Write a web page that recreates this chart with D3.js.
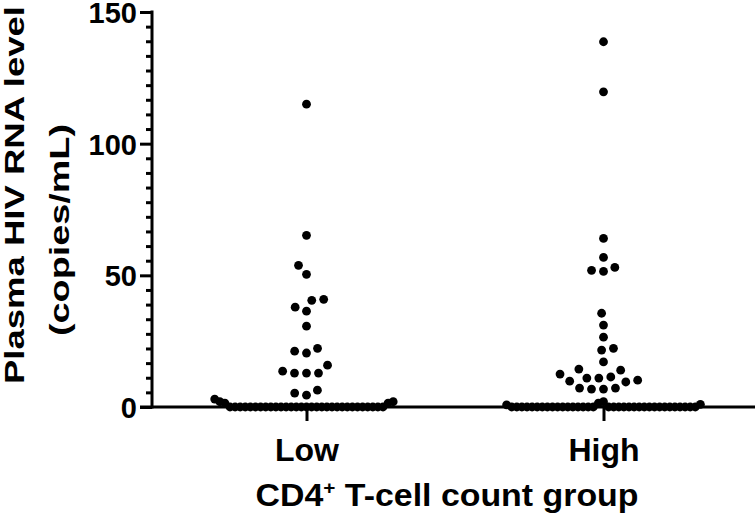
<!DOCTYPE html>
<html><head><meta charset="utf-8">
<script src="https://cdn.jsdelivr.net/npm/d3@7"></script>
<style>
html,body{margin:0;padding:0;background:#fff;}
svg{display:block;font-family:"Liberation Sans",Arial,Helvetica,sans-serif;font-weight:bold;}
</style>
</head><body>
<svg id="chart" width="755" height="517"></svg>
<script>
// ---- data ----
const categories = ["Low", "High"];
const lowValues = [115, 65.2, 53.8, 50.4, 40.9, 40.5, 37.9, 36.4, 30.7, 22.3, 21.2, 20.5,
  15.9, 13.6, 12.9, 12.9, 12.9, 6.4, 5.3, 4.5,
  0, 0, 0, 0, 0, 0, 0, 0, 0, 0, 0, 0, 0, 0, 0, 0, 0, 0, 0, 0, 0, 0, 0, 0, 0, 0, 0, 0, 0, 0, 0,
  1.5, 1.5, 2, 2, 3];
const highValues = [138.7, 119.7, 64.0, 56.8, 53.0, 51.9, 51.5, 35.6, 31.1, 26.5, 22.3, 21.6,
  17.1, 14.4, 14.0, 12.5, 11.4, 11.0, 11.0, 10.2, 9.8, 9.5, 7.2, 7.2, 6.8, 6.8,
  2, 1.5,
  0, 0, 0, 0, 0, 0, 0, 0, 0, 0, 0, 0, 0, 0, 0, 0, 0, 0, 0, 0, 0, 0, 0, 0, 0, 0, 0, 0, 0, 0, 0, 0, 0, 0, 0,
  0.8, 1];
const yTickValues = [0, 50, 100, 150];
const yLabel = ["Plasma HIV RNA level", "(copies/mL)"];
const xLabelMain = "CD4";
const xLabelSup = "+";
const xLabelRest = " T-cell count group";

// ---- setup ----
const svg = d3.select("#chart");
const axisX0 = 152, axisXEnd = 755, axisY0 = 407, axisYTop = 12;
const y = d3.scaleLinear().domain([0, 150]).range([axisY0, axisYTop]);
const x = d3.scalePoint().domain(categories).range([158, 752]).padding(0.5);

const dotR = 4.4, collide = 12, baseStep = 5.1, baselineMax = 3.5;

function layout(values, cx) {
  const pts = [];
  const base = values.filter(v => v < baselineMax);
  base.forEach((v, i) => {
    const slot = i === 0 ? 0 : (i % 2 === 1 ? -(i + 1) / 2 : i / 2);
    pts.push({ v, x: cx + slot * baseStep, y: y(v) });
  });
  const rest = values.filter(v => v >= baselineMax).sort((a, b) => a - b);
  const placed = [];
  rest.forEach(v => {
    const py = y(v);
    const near = placed.filter(p => Math.abs(p.y - py) < collide);
    const cands = [0];
    near.forEach(p => {
      const dx = Math.sqrt(collide * collide - (p.y - py) ** 2);
      cands.push(p.dx - dx, p.dx + dx);
    });
    cands.sort((a, b) => Math.abs(a) - Math.abs(b) || a - b);
    const ok = cands.find(c => near.every(p => (p.dx - c) ** 2 + (p.y - py) ** 2 >= collide * collide - 1e-6));
    placed.push({ v, dx: ok, y: py });
  });
  placed.forEach(p => pts.push({ v: p.v, x: cx + p.dx, y: p.y }));
  return pts;
}

// ---- axes ----
const minorTicks = [];
for (let i = 0; i < yTickValues.length - 1; i++) {
  const a = yTickValues[i], b = yTickValues[i + 1];
  for (let k = 1; k < 9; k++) minorTicks.push(a + (b - a) * k / 9);
}

const gy = svg.append("g").attr("transform", `translate(${axisX0},0)`);
gy.call(d3.axisLeft(y).tickValues(minorTicks).tickSize(6).tickSizeOuter(0).tickFormat(""));
gy.call(g => g.selectAll(".domain").remove());
const gyMaj = svg.append("g").attr("transform", `translate(${axisX0},0)`);
gyMaj.call(d3.axisLeft(y).tickValues(yTickValues).tickSize(12).tickSizeOuter(0).tickPadding(3).tickFormat(d3.format("d")));
gyMaj.selectAll("text").attr("font-size", 29).attr("font-family", null).attr("fill", "#000").attr("dy", "0.36em");
svg.selectAll(".tick line").attr("stroke", "#000").attr("stroke-width", 3);
gyMaj.select(".domain").remove();
svg.append("line").attr("x1", axisX0).attr("x2", axisX0).attr("y1", axisYTop - 1.5).attr("y2", axisY0 + 1.5)
  .attr("stroke", "#000").attr("stroke-width", 3);

const gx = svg.append("g").attr("transform", `translate(0,${axisY0})`);
gx.call(d3.axisBottom(x).tickSize(14).tickSizeOuter(0).tickPadding(17));
gx.select(".domain").remove();
gx.selectAll(".tick line").attr("stroke", "#000").attr("stroke-width", 3);
gx.selectAll("text").attr("font-size", 32).attr("font-family", null).attr("fill", "#000");
svg.append("line").attr("x1", axisX0 - 12).attr("x2", axisXEnd).attr("y1", axisY0).attr("y2", axisY0)
  .attr("stroke", "#000").attr("stroke-width", 3);

// ---- dots ----
const allPts = [...layout(lowValues, x("Low")), ...layout(highValues, x("High"))];
svg.append("g").selectAll("circle").data(allPts).join("circle")
  .attr("cx", d => d.x).attr("cy", d => d.y).attr("r", dotR).attr("fill", "#000");

// ---- titles ----
const xt = svg.append("text").attr("x", 447).attr("y", 506).attr("text-anchor", "middle")
  .attr("font-size", 31).attr("fill", "#000")
  .attr("textLength", 383).attr("lengthAdjust", "spacingAndGlyphs");
xt.append("tspan").text(xLabelMain);
xt.append("tspan").attr("font-size", 19).attr("dy", -12).text(xLabelSup);
xt.append("tspan").attr("dy", 12).text(xLabelRest);

svg.append("text").attr("transform", "translate(24,195) rotate(-90)").attr("text-anchor", "middle")
  .attr("font-size", 28).attr("fill", "#000")
  .attr("textLength", 378).attr("lengthAdjust", "spacingAndGlyphs").text(yLabel[0]);
svg.append("text").attr("transform", "translate(69,230) rotate(-90)").attr("text-anchor", "middle")
  .attr("font-size", 28).attr("fill", "#000")
  .attr("textLength", 212).attr("lengthAdjust", "spacingAndGlyphs").text(yLabel[1]);
</script>
</body></html>
